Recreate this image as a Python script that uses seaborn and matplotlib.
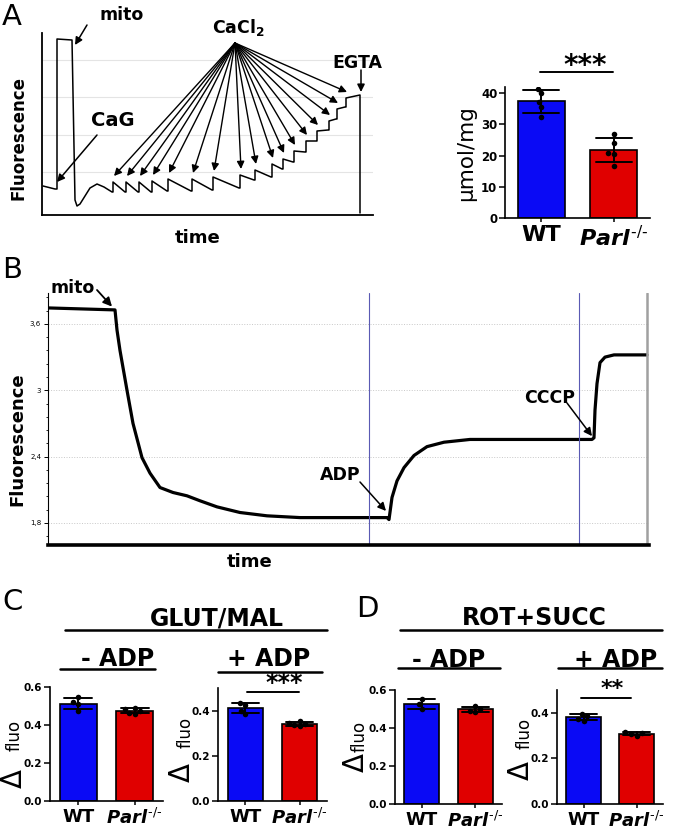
import numpy as np
import pandas as pd
import matplotlib
matplotlib.use('Agg')
import matplotlib.pyplot as plt
from matplotlib.ticker import AutoMinorLocator
import seaborn as sns

# ---- panel A: calcium retention trace (arbitrary units) ----
a_pre_t = [1, 13, 15, 15, 30, 33, 35, 38, 43, 48, 55, 62, 70]
a_pre_f = [29, 26, 26, 176, 175, 15, 9, 11, 19, 27, 31, 28, 23]
cacl2_t = [71, 84, 97, 110, 126, 150, 171, 198, 213, 230, 241, 252, 264, 275, 287, 295, 304]
cacl2_top = [33, 33, 33, 34, 36, 36, 38, 40, 45, 51, 56, 64, 74, 84, 94, 106, 117]
cacl2_end = [23, 23, 23, 24, 24, 25, 27, 35, 38, 46, 53, 63, 74, 85, 96, 108, 120]
egta_t = 318
egta_floor = 2
a_grid = [43, 80, 118, 155]

# ---- panel A: calcium retention capacity (umol/mg) ----
genotypes = ['WT', 'Parl']
a_wt = [41.5, 40.1, 37.2, 35.6, 32.4]
a_parl = [26.9, 24.1, 20.7, 20.5, 16.6]

# ---- panel B: membrane potential trace ----
b_t = [0, 67, 69, 72, 79, 85, 94, 102, 112, 125, 139, 152, 169, 192, 219, 252,
       339, 341, 344, 349, 356, 366, 379, 396, 422, 544, 546, 547, 549, 552, 557, 566, 599]
b_f = [3.745, 3.727, 3.545, 3.36, 3.0, 2.70, 2.39, 2.25, 2.12, 2.075, 2.045, 2.0, 1.945,
       1.894, 1.864, 1.848, 1.848, 1.83, 2.03, 2.18, 2.30, 2.41, 2.49, 2.53, 2.555, 2.555,
       2.57, 2.82, 3.06, 3.25, 3.30, 3.32, 3.32]
b_marks = [321, 531]
b_ticks = [1.8, 2.4, 3.0, 3.6]
b_tick_labels = ['1,8', '2,4', '3', '3,6']

# ---- panels C / D: delta fluorescence ----
c_minus_wt = [0.545, 0.52, 0.51, 0.475]
c_minus_parl = [0.49, 0.485, 0.475, 0.465, 0.46]
c_plus_wt = [0.435, 0.425, 0.40, 0.385]
c_plus_parl = [0.355, 0.345, 0.34, 0.335, 0.33]
d_minus_wt = [0.555, 0.525, 0.50]
d_minus_parl = [0.515, 0.50, 0.49, 0.485]
d_plus_wt = [0.395, 0.385, 0.375, 0.365]
d_plus_parl = [0.315, 0.31, 0.305, 0.30]

blue = '#0a0af5'
red = '#e00000'

sns.set_style('ticks')
plt.rcParams['font.family'] = ['DejaVu Sans']
plt.rcParams['mathtext.fontset'] = 'custom'
plt.rcParams['mathtext.it'] = 'DejaVu Sans:italic:bold'
plt.rcParams['mathtext.bf'] = 'DejaVu Sans:bold'
plt.rcParams['mathtext.rm'] = 'DejaVu Sans'
for key in ['text.color', 'axes.labelcolor', 'xtick.color', 'ytick.color', 'axes.edgecolor']:
    plt.rcParams[key] = 'black'

W, H = 677, 833
fig = plt.figure(figsize=(W / 100, H / 100), dpi=100)


def px_axes(l, t, r, b):
    return fig.add_axes([l / W, 1 - b / H, (r - l) / W, (b - t) / H])


def arrow(ax, xy, start, lw=1.0, ms=11):
    ax.annotate('', xy=xy, xycoords='data', xytext=(start[0], H - start[1]),
                textcoords='figure pixels', annotation_clip=False,
                arrowprops=dict(arrowstyle='-|>', color='black', lw=lw,
                                mutation_scale=ms, shrinkA=0, shrinkB=0))


parl_label = '$\\mathit{Parl}^{\\mathit{\u2010/\u2010}}$'


def bar_panel(rect, wt, parl, ymax, yticks, fmt, label_size, tick_size=7.5):
    ax = px_axes(*rect)
    df = pd.DataFrame({'genotype': ['WT'] * len(wt) + ['Parl'] * len(parl),
                       'value': wt + parl})
    sns.barplot(data=df, x='genotype', y='value', hue='genotype', order=genotypes,
                hue_order=genotypes, palette=[blue, red], saturation=1, errorbar='sd',
                capsize=0.5, err_kws={'color': 'black', 'linewidth': 1.4},
                edgecolor='black', linewidth=1.2, width=0.65, legend=False, ax=ax)
    sns.swarmplot(data=df, x='genotype', y='value', order=genotypes, color='black',
                  size=4, ax=ax)
    ax.set_xlim(-0.5, 1.5)
    ax.set_ylim(0, ymax)
    ax.set_yticks(yticks)
    ax.yaxis.set_major_formatter(fmt)
    ax.set_xticks([0, 1])
    ax.set_xticklabels(['WT', parl_label])
    ax.set_xlabel('')
    ax.set_ylabel('')
    ax.tick_params(axis='y', length=4, width=1.1, labelsize=tick_size, pad=1.5)
    ax.tick_params(axis='x', length=3, width=1.1, labelsize=label_size, pad=2)
    for lab in ax.get_yticklabels() + ax.get_xticklabels():
        lab.set_fontweight('bold')
    sns.despine(ax=ax)
    for s in ['left', 'bottom']:
        ax.spines[s].set_linewidth(1.2)
    return ax


# background axis in pixel coordinates for labels / headers
bg = fig.add_axes([0, 0, 1, 1], zorder=5)
bg.set_xlim(0, W)
bg.set_ylim(H, 0)
bg.axis('off')

# ================= panel A trace =================
axA = px_axes(42, 33, 373, 215)
a_t = list(a_pre_t)
a_f = list(a_pre_f)
for i, (jt, top, end) in enumerate(zip(cacl2_t, cacl2_top, cacl2_end)):
    a_t += [jt, jt]
    a_f += [a_f[-1], top]
    seg_end = cacl2_t[i + 1] - 1 if i + 1 < len(cacl2_t) else egta_t
    a_t.append(seg_end)
    a_f.append(end)
a_t.append(egta_t)
a_f.append(egta_floor)
sns.lineplot(x=a_t, y=a_f, sort=False, estimator=None, color='black', linewidth=1.1, ax=axA)
axA.set_xlim(0, 331)
axA.set_ylim(0, 182)
axA.set_yticks(a_grid)
axA.set_yticklabels([])
axA.set_xticks([])
axA.tick_params(length=0)
axA.grid(axis='y', color='#e4e4e4', lw=0.8)
sns.despine(ax=axA)
for s in ['left', 'bottom']:
    axA.spines[s].set_linewidth(1.3)

for jt, top in zip(cacl2_t, cacl2_top):
    arrow(axA, (jt + 1, top + 6), (235, 43))
arrow(axA, (egta_t + 1, cacl2_end[-1] + 3), (361, 70), lw=1.1)
arrow(axA, (a_pre_t[4] + 3, a_pre_f[4] - 5), (87, 25), lw=1.1)
arrow(axA, (a_pre_t[2], a_pre_f[2] + 7), (97, 135), lw=1.1)

bg.text(2, 3, 'A', fontsize=21, ha='left', va='top')
bg.text(122, 20, 'mito', fontsize=12.5, fontweight='bold', ha='center', va='baseline')
bg.text(113, 126, 'CaG', fontsize=14, fontweight='bold', ha='center', va='baseline')
bg.text(238, 33, r'CaCl$_\mathbf{2}$', fontsize=12.5, fontweight='bold', ha='center', va='baseline')
bg.text(357, 68, 'EGTA', fontsize=12.5, fontweight='bold', ha='center', va='baseline')
bg.text(19, 138, 'Fluorescence', fontsize=12, fontweight='bold', rotation=90, ha='center', va='center')
bg.text(198, 243, 'time', fontsize=13, fontweight='bold', ha='center', va='baseline')

# ================= panel A bars =================
axAb = bar_panel((505, 87, 650, 218), a_wt, a_parl, 42, [0, 10, 20, 30, 40], '{x:.0f}', 16, 8.5)
axAb.plot([-0.02, 0.99], [46.7, 46.7], color='black', lw=1.4, clip_on=False)
bg.text(585, 74, '***', fontsize=20, fontweight='bold', ha='center', va='baseline')
bg.text(466, 153, 'μmol/mg', fontsize=15.5, rotation=90, ha='center', va='center')

# ================= panel B =================
axB = px_axes(48, 293, 649, 545)
sns.lineplot(x=b_t, y=b_f, sort=False, estimator=None, color='black', linewidth=2.3, ax=axB)
axB.set_xlim(0, 601)
axB.set_ylim(1.6, 3.88)
axB.set_yticks(b_ticks)
axB.set_yticklabels(b_tick_labels)
axB.yaxis.set_minor_locator(AutoMinorLocator(5))
axB.set_xticks([])
axB.tick_params(axis='y', which='major', length=3, width=0.7, labelsize=5, pad=2)
axB.tick_params(axis='y', which='minor', length=1.5, width=0.6)
axB.grid(axis='y', which='major', color='#c8c8c8', lw=0.7, ls=':')
for x in b_marks:
    axB.axvline(x, color='#5a5ab4', lw=0.8)
axB.axvline(b_t[-1], color='#a0a0a0', lw=1.8)
for s in ['top', 'right']:
    axB.spines[s].set_visible(False)
axB.spines['bottom'].set_linewidth(2.6)
axB.spines['left'].set_linewidth(0.8)

arrow(axB, (b_t[1] - 3, b_f[1] + 0.03), (97, 290), lw=1.3, ms=13)
arrow(axB, (b_t[16] - 1, b_f[16] + 0.06), (360, 482), lw=1.1, ms=12)
arrow(axB, (b_t[25], b_f[25] + 0.03), (567, 403), lw=1.1, ms=12)

bg.text(2, 256, 'B', fontsize=21, ha='left', va='top')
bg.text(73, 293, 'mito', fontsize=12.5, fontweight='bold', ha='center', va='baseline')
bg.text(340, 480, 'ADP', fontsize=12.5, fontweight='bold', ha='center', va='baseline')
bg.text(550, 403, 'CCCP', fontsize=12.5, fontweight='bold', ha='center', va='baseline')
bg.text(17, 439, 'Fluorescence', fontsize=13, fontweight='bold', rotation=90, ha='center', va='center')
bg.text(250, 567, 'time', fontsize=13, fontweight='bold', ha='center', va='baseline')

# ================= panels C / D =================
f1 = '{x:.1f}'
axC1 = bar_panel((50, 687, 163, 801), c_minus_wt, c_minus_parl, 0.6, [0, 0.2, 0.4, 0.6], f1, 13)
axC2 = bar_panel((218, 688, 327, 801), c_plus_wt, c_plus_parl, 0.5, [0, 0.2, 0.4], f1, 13)
axD1 = bar_panel((395, 690, 502, 804), d_minus_wt, d_minus_parl, 0.6, [0, 0.2, 0.4, 0.6], f1, 13)
axD2 = bar_panel((557, 690, 663, 804), d_plus_wt, d_plus_parl, 0.5, [0, 0.2, 0.4], f1, 13)

axC2.plot([0.03, 0.99], [0.484, 0.484], color='black', lw=1.4, clip_on=False)
bg.text(284, 690, '***', fontsize=17, fontweight='bold', ha='center', va='baseline')
axD2.plot([-0.05, 0.9], [0.467, 0.467], color='black', lw=1.4, clip_on=False)
bg.text(612, 695, '**', fontsize=16, fontweight='bold', ha='center', va='baseline')

headers = [
    ('C', 2, 588, 'GLUT/MAL', 217, 625, (65, 327, 630),
     [('- ADP', 118, 666, (60, 155, 669)), ('+ ADP', 269, 666, (218, 322, 672))]),
    ('D', 356, 595, 'ROT+SUCC', 534, 625, (400, 662, 630),
     [('- ADP', 449, 667, (398, 500, 668)), ('+ ADP', 616, 667, (558, 662, 668))]),
]
for letter, lx, ly, title, tx, ty, tline, subs in headers:
    bg.text(lx, ly, letter, fontsize=21, ha='left', va='top')
    bg.text(tx, ty, title, fontsize=17, fontweight='bold', ha='center', va='baseline')
    bg.plot([tline[0], tline[1]], [tline[2], tline[2]], color='black', lw=1.8)
    for s, sx, sy, sline in subs:
        bg.text(sx, sy, s, fontsize=17, fontweight='bold', ha='center', va='baseline')
        bg.plot([sline[0], sline[1]], [sline[2], sline[2]], color='black', lw=1.8)

for dx, dy, fx, fy in [(14, 778, 15, 735), (182, 772, 186, 732),
                       (356, 763, 360, 736), (521, 771, 525, 733)]:
    bg.text(dx, dy, 'Δ', fontsize=20, rotation=90, ha='center', va='center')
    bg.text(fx, fy, 'fluo', fontsize=12, rotation=90, ha='center', va='center')

fig.savefig('out.png', dpi=100)
